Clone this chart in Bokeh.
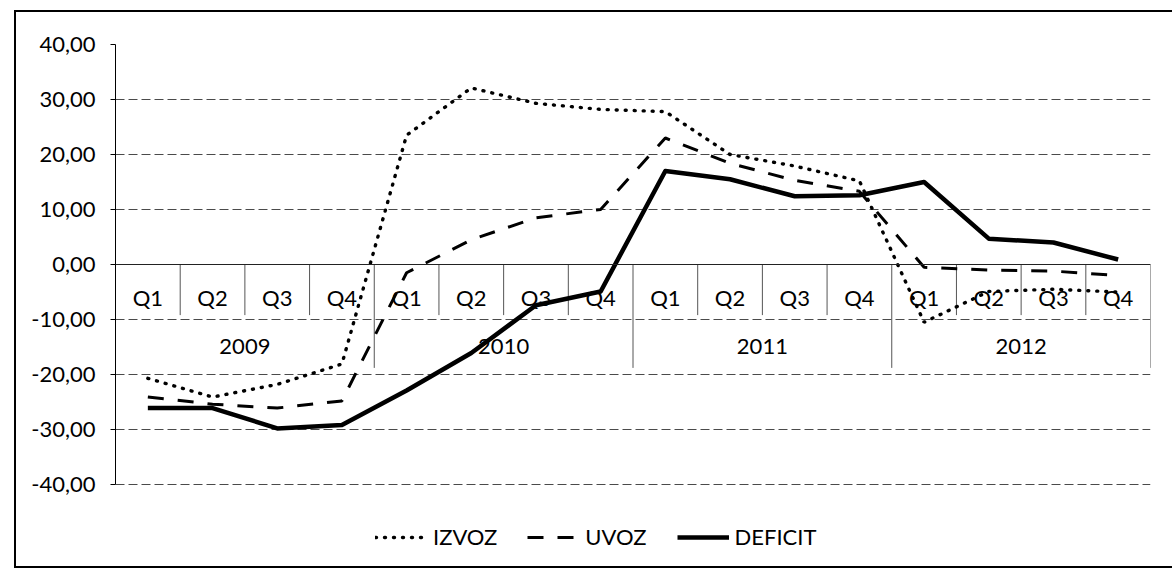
from bokeh.plotting import figure
from bokeh.models import (FactorRange, Range1d, FixedTicker, CustomJSTickFormatter,
                          ColumnDataSource, Legend, LegendItem, Span, InlineStyleSheet)
from bokeh.core.properties import value
from bokeh.embed import file_html
from bokeh.resources import INLINE

# ---- data -------------------------------------------------------------
years = ["2009", "2010", "2011", "2012"]
quarters = ["Q1", "Q2", "Q3", "Q4"]
izvoz = [-20.7, -24.1, -21.8, -18.1, 23.5, 32.1, 29.3, 28.2,
         27.8, 20.0, 17.9, 15.2, -10.5, -4.9, -4.5, -5.0]
uvoz = [-24.1, -25.4, -26.1, -24.8, -1.5, 4.5, 8.5, 10.0,
        23.0, 18.4, 15.3, 13.3, -0.5, -1.0, -1.2, -2.0]
deficit = [-26.1, -26.1, -29.8, -29.2, -22.9, -16.1, -7.4, -4.9,
           17.0, 15.5, 12.4, 12.6, 15.0, 4.7, 4.0, 0.9]
series_names = ["IZVOZ", "UVOZ", "DEFICIT"]
y_ticks = [-40, -30, -20, -10, 0, 10, 20, 30, 40]

FONT = "Lato"
FS = "22px"

factors = [(y, q) for y in years for q in quarters]

x_range = FactorRange(factors=factors, range_padding=0, factor_padding=0,
                      group_padding=0, subgroup_padding=0)

# the frame reaches below the value axis so the legend can sit inside it
p = figure(frame_width=1035, frame_height=528, x_range=x_range, y_range=Range1d(-56, 40),
           x_axis_location=None, output_backend="svg", toolbar_location=None,
           min_border_left=115, min_border_right=22, min_border_top=44,
           min_border_bottom=0)
p.outline_line_color = None
p.background_fill_color = "white"
p.border_fill_color = "white"

# outer chart border (left, top, bottom edges; right edge lies outside the picture)
p.stylesheets = [InlineStyleSheet(css="""
:host { position: relative; overflow: hidden; }
:host::after { content: ""; position: absolute; left: 14px; top: 10px; width: 1300px;
  height: 558px; box-sizing: border-box; border-left: 2px solid #000;
  border-top: 2px solid #000; border-bottom: 2px solid #000; border-right: 0;
  pointer-events: none; }
""")]

# grid
p.xgrid.visible = False
p.ygrid.ticker = FixedTicker(ticks=y_ticks)
p.ygrid.grid_line_color = "#4a4a4a"
p.ygrid.grid_line_width = 1
p.ygrid.grid_line_dash = "9 4"

# y axis
ax = p.yaxis[0]
ax.ticker = FixedTicker(ticks=y_ticks)
ax.bounds = (y_ticks[0], y_ticks[-1])
ax.formatter = CustomJSTickFormatter(code="return tick.toFixed(2).replace('.', ',');")
ax.major_label_text_font = FONT
ax.major_label_text_font_size = FS
ax.major_label_text_color = "black"
ax.axis_line_color = "black"
ax.major_tick_line_color = "black"
ax.major_tick_out = 5
ax.major_tick_in = 0
ax.minor_tick_line_color = None
ax.major_label_standoff = 15

# category axis line at zero
p.add_layout(Span(location=0, dimension="width", line_color="#222222", line_width=1.2))

# category box separators
short_x = [(y, q, 0.5) for y in years for q in quarters[:3]]
long_x = [(y, quarters[-1], 0.5) for y in years]
p.segment(x0=short_x, y0=[0] * len(short_x), x1=short_x, y1=[-9.2] * len(short_x),
          line_color="#555555", line_width=1)
p.segment(x0=long_x, y0=[0] * len(long_x), x1=long_x, y1=[-18.8] * len(long_x),
          line_color="#555555", line_width=1)

# category labels
q_src = ColumnDataSource(dict(x=factors, text=[q for _, q in factors]))
p.text(x="x", y=0, text="text", source=q_src, y_offset=33,
       text_align="center", text_baseline="middle",
       text_font=value(FONT), text_font_size=FS, text_color="black")
y_src = ColumnDataSource(dict(x=years, text=years))
p.text(x="x", y=0, text="text", source=y_src, y_offset=82,
       text_align="center", text_baseline="middle",
       text_font=value(FONT), text_font_size=FS, text_color="black")

# series
src = ColumnDataSource(dict(x=factors, izvoz=izvoz, uvoz=uvoz, deficit=deficit))
r1 = p.line("x", "izvoz", source=src, line_color="black", line_width=3.4,
            line_dash="1 8", line_cap="round")
r2 = p.line("x", "uvoz", source=src, line_color="black", line_width=3,
            line_dash="16 14")
r3 = p.line("x", "deficit", source=src, line_color="black", line_width=4.5,
            line_join="round")

legend = Legend(items=[LegendItem(label=series_names[0], renderers=[r1]),
                       LegendItem(label=series_names[1], renderers=[r2]),
                       LegendItem(label=series_names[2], renderers=[r3])],
                orientation="horizontal", location=(260, 22),
                label_text_font=FONT, label_text_font_size=FS,
                label_text_color="black", glyph_width=52, glyph_height=20,
                label_standoff=6, spacing=30, border_line_color=None,
                background_fill_alpha=0, margin=0, padding=0)
p.add_layout(legend)

open("out.html", "w").write(file_html(p, INLINE))
